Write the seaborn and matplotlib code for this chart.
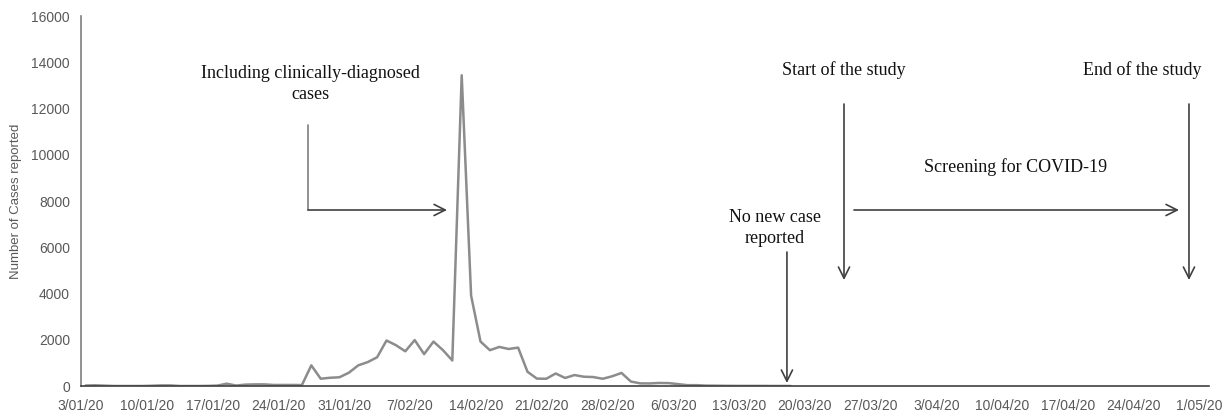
import matplotlib
matplotlib.use("Agg")
import matplotlib.pyplot as plt
import matplotlib.ticker as mticker
import matplotlib.dates as mdates
import pandas as pd
import seaborn as sns

# daily new cases reported (Wuhan), 3 Jan - 18 Mar 2020
start = pd.Timestamp("2020-01-03")
cases = [
    20, 30, 15, 0, 0, 0, 0, 10, 25, 25, 0, 0, 0, 4, 17,      # 3/01 - 17/01
    100, 20, 60, 70, 70, 45, 45, 45, 40,                     # 18/01 - 26/01
    892, 315, 356, 378, 576,                                 # 27/01 - 31/01
    894, 1033, 1242, 1967, 1766, 1501, 1985, 1379, 1921,     # 1/02 - 9/02
    1552, 1104, 13436, 3910, 1923, 1548, 1690, 1600, 1660,   # 10/02 - 18/02
    615, 319, 314, 541, 348, 473, 401, 387, 313, 420, 565,   # 19/02 - 29/02
    193, 114, 111, 131, 126, 83, 36, 36, 16, 13, 8, 5,       # 1/03 - 12/03
    4, 4, 4, 1, 1, 0,                                        # 13/03 - 18/03
]
# Excel category axis: points sit in the middle of each day
dates = pd.date_range(start + pd.Timedelta(hours=12), periods=len(cases), freq="D")
df = pd.DataFrame({"date": dates, "cases": cases})

tick_dates = pd.date_range("2020-01-03", "2020-05-01", freq="7D")
tick_labels = [f"{d.day}/{d.month:02d}/{d.year % 100}" for d in tick_dates]

sns.set_style("white")
plt.rcParams["font.family"] = ["Liberation Sans", "DejaVu Sans"]

fig = plt.figure(figsize=(12.31, 4.16), dpi=100)
ax = fig.add_axes([81 / 1231, 1 - 386 / 416, 1128 / 1231, 370 / 416])

sns.lineplot(data=df, x="date", y="cases", ax=ax, color="#8c8c8c", linewidth=1.8)

ax.set_xlim(start, pd.Timestamp("2020-05-02"))
ax.set_ylim(0, 16000)
ax.set_xticks(tick_dates)
ax.set_xticklabels(tick_labels)
ax.yaxis.set_major_locator(mticker.MultipleLocator(2000))

ax.tick_params(axis="x", direction="out", length=5, width=1, color="#404040",
               labelsize=10, labelcolor="#595959", pad=4)
ax.tick_params(axis="y", length=0, labelsize=10, labelcolor="#595959", pad=8)

for side in ["top", "right"]:
    ax.spines[side].set_visible(False)
ax.spines["left"].set_color("#7f7f7f")
ax.spines["bottom"].set_color("#404040")
ax.spines["left"].set_linewidth(1.2)
ax.spines["bottom"].set_linewidth(1.2)

ax.set_xlabel("")
ax.set_ylabel("Number of Cases reported", fontsize=9.5, color="#595959")
ax.yaxis.set_label_coords(-0.052, 0.5)


def day(offset):
    return mdates.date2num(start + pd.Timedelta(days=offset))


serif = dict(family=["Liberation Serif", "DejaVu Serif"], fontsize=13, color="#111111")
arrow = dict(arrowstyle="->", color="#404040", lw=1.2, mutation_scale=20,
             shrinkA=0, shrinkB=0)

# clinically-diagnosed note with elbow arrow
ax.text(day(24.36), 13059, "Including clinically-diagnosed\ncases", ha="center",
        va="center", linespacing=1.25, **serif)
ax.plot([day(24.15), day(24.15)], [11286, 7611], color="#7f7f7f", lw=1.2)
ax.annotate("", xy=(day(38.94), 7611), xytext=(day(24.15), 7611), arrowprops=arrow)

# no new case
ax.text(day(73.83), 6832, "No new case\nreported", ha="center", va="center",
        linespacing=1.25, **serif)
ax.annotate("", xy=(day(75.1), 130), xytext=(day(75.1), 5794), arrowprops=arrow)

# start / end of the study
ax.text(day(81.17), 13664, "Start of the study", ha="center", va="center", **serif)
ax.annotate("", xy=(day(81.17), 4583), xytext=(day(81.17), 12194), arrowprops=arrow)
ax.text(day(112.87), 13664, "End of the study", ha="center", va="center", **serif)
ax.annotate("", xy=(day(117.87), 4583), xytext=(day(117.87), 12194), arrowprops=arrow)

# screening period
ax.text(day(99.47), 9470, "Screening for COVID-19", ha="center", va="center", **serif)
ax.annotate("", xy=(day(116.81), 7611), xytext=(day(82.23), 7611), arrowprops=arrow)

fig.savefig("out.png", dpi=100)
